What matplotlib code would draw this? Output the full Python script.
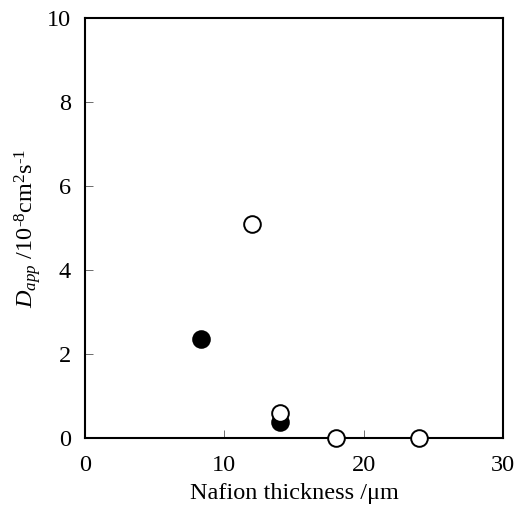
import matplotlib
matplotlib.use('Agg')
import matplotlib.pyplot as plt

plt.rcParams['font.family'] = ['Liberation Serif', 'DejaVu Serif']
plt.rcParams['mathtext.fontset'] = 'custom'
plt.rcParams['mathtext.rm'] = 'Liberation Serif'
plt.rcParams['mathtext.it'] = 'Liberation Serif:italic'

# filled circles
filled_x = [8.3, 14.0]
filled_y = [2.35, 0.38]
# open circles
open_x = [12.0, 14.0, 18.0, 24.0]
open_y = [5.1, 0.6, 0.0, 0.0]

fig = plt.figure(figsize=(5.18, 5.08), dpi=100)
ax = fig.add_axes([0.164, 0.138, 0.807, 0.827])

ax.plot(filled_x, filled_y, 'o', ms=12, mfc='black', mec='black', mew=1.4,
        ls='none', clip_on=False, zorder=3)
ax.plot(open_x, open_y, 'o', ms=12, mfc='white', mec='black', mew=1.4,
        ls='none', clip_on=False, zorder=4)

ax.set_xlim(0, 30)
ax.set_ylim(0, 10)
ax.set_xticks([0, 10, 20, 30])
ax.set_yticks([0, 2, 4, 6, 8, 10])
ax.tick_params(direction='in', length=6, width=0.6, labelsize=17.5, color='#555555')
ax.tick_params(axis='x', pad=12)
ax.tick_params(axis='y', pad=10)
for s in ax.spines.values():
    s.set_linewidth(1.5)

ax.set_xlabel('Nafion thickness /μm', fontsize=17.5, labelpad=5)
ax.set_ylabel('$D_{app}$ /10$^{\u20108}$cm$^{2}$s$^{\u20101}$', fontsize=17.5, labelpad=3)

fig.savefig('out.png', dpi=100)
